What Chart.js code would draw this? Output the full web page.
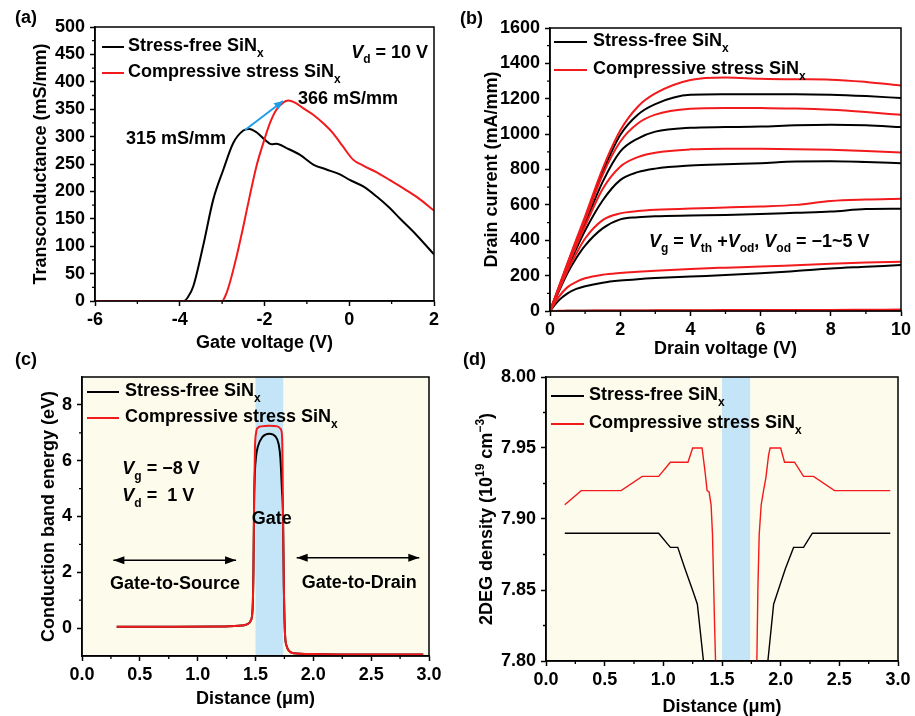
<!DOCTYPE html>
<html lang="en">
<head>
<meta charset="UTF-8">
<title>Stress-free vs compressive stress SiNx</title>
<script src="https://cdn.jsdelivr.net/npm/chart.js"></script>
<style>
  body { margin: 0; background: #fff; font-family: 'Liberation Sans', Arial, sans-serif; }
  .wrap { position: relative; width: 915px; height: 716px; overflow: hidden; }
  .wrap canvas { position: absolute; }
  .tag { position: absolute; font-weight: bold; font-size: 18px; line-height: 18px; }
</style>
</head>
<body>
<div class="wrap">
  <canvas id="chartA" width="455" height="355" style="left:0;top:0"></canvas>
  <canvas id="chartB" width="460" height="360" style="left:455px;top:0"></canvas>
  <canvas id="chartC" width="455" height="361" style="left:0;top:355px"></canvas>
  <canvas id="chartD" width="460" height="361" style="left:455px;top:355px"></canvas>
  <div class="tag" style="left:15px;top:8px">(a)</div>
  <div class="tag" style="left:460px;top:9px">(b)</div>
  <div class="tag" style="left:15px;top:350px">(c)</div>
  <div class="tag" style="left:463px;top:350px">(d)</div>
</div>
<script>
// ---- data ----
// (a) transconductance vs gate voltage, Vd = 10 V
const gateVFree = [-6, -4.5, -3.9, -3.8, -3.68, -3.45, -3.21, -2.97, -2.74, -2.5, -2.36, -2.19, -1.99, -1.83, -1.72, -1.48, -1.17, -0.85, -0.54, -0.22, 0.01, 0.33, 0.64, 0.95, 1.19, 1.58, 2.0];
const gmFree = [0, 0, 0, 8, 27, 100, 185, 240, 288, 311, 314, 308, 294, 286, 287, 279, 267, 249, 240, 231, 221, 209, 191, 170, 151, 121, 85];
const gateVComp = [-6, -4.5, -3.0, -2.92, -2.82, -2.66, -2.5, -2.35, -2.19, -2.03, -1.87, -1.72, -1.56, -1.44, -1.28, -1.09, -0.85, -0.58, -0.38, -0.15, 0.09, 0.33, 0.64, 0.95, 1.35, 1.66, 2.0];
const gmComp = [0, 0, 0, 10, 33, 81, 136, 191, 246, 288, 325, 349, 362, 366, 362, 352, 340, 322, 306, 282, 258, 247, 235, 221, 202, 186, 165];
const aXTicks = [-6, -4, -2, 0, 2];
const aYTicks = [0, 50, 100, 150, 200, 250, 300, 350, 400, 450, 500];

// (b) output curves, one row per overdrive step
const drainV = [0, 0.25, 0.5, 0.75, 1, 1.5, 2, 2.5, 3, 4, 5, 6, 7, 8, 9, 10];
const idFree = [
  [0, 0, 1, 1, 1, 1, 1, 1, 1, 1, 1, 1, 1, 1, 1, 1],
  [0, 60, 100, 125, 140, 160, 172, 180, 186, 195, 203, 213, 226, 240, 250, 260],
  [0, 110, 215, 300, 370, 467, 518, 530, 536, 540, 543, 548, 555, 562, 576, 578],
  [0, 122, 240, 352, 455, 625, 740, 785, 805, 822, 830, 836, 845, 846, 842, 836],
  [0, 128, 255, 378, 495, 730, 901, 975, 1014, 1036, 1040, 1043, 1050, 1053, 1050, 1040],
  [0, 133, 266, 396, 522, 785, 995, 1110, 1170, 1222, 1225, 1226, 1226, 1223, 1215, 1204]
];
const idComp = [
  [0, 1, 2, 2, 2, 3, 3, 3, 4, 4, 5, 5, 6, 6, 7, 8],
  [0, 80, 135, 165, 185, 205, 215, 222, 228, 238, 245, 251, 259, 267, 274, 279],
  [0, 115, 228, 325, 410, 514, 552, 565, 572, 580, 585, 591, 600, 622, 630, 634],
  [0, 126, 250, 368, 480, 690, 816, 870, 895, 914, 918, 917, 915, 911, 905, 896],
  [0, 131, 262, 390, 512, 770, 957, 1060, 1110, 1143, 1148, 1147, 1145, 1138, 1125, 1109],
  [0, 136, 272, 405, 535, 805, 1020, 1155, 1230, 1306, 1320, 1313, 1310, 1308, 1295, 1275]
];
const bXTicks = [0, 2, 4, 6, 8, 10];
const bYTicks = [0, 200, 400, 600, 800, 1000, 1200, 1400, 1600];

// (c) conduction band energy along the channel
const distCFree = [0.30, 0.80, 1.20, 1.38, 1.43, 1.46, 1.475, 1.482, 1.488, 1.495, 1.505, 1.52, 1.56, 1.62, 1.67, 1.70, 1.715, 1.728, 1.738, 1.745, 1.755, 1.77, 1.79, 1.83, 2.00, 2.50, 2.95];
const ecFree = [0.05, 0.05, 0.06, 0.09, 0.14, 0.28, 0.70, 2.0, 4.5, 5.6, 6.15, 6.5, 6.85, 6.97, 6.88, 6.6, 6.1, 5.0, 4.0, 1.5, -0.2, -0.65, -0.82, -0.90, -0.93, -0.95, -0.95];
const distCComp = [0.30, 0.80, 1.20, 1.38, 1.43, 1.46, 1.475, 1.482, 1.488, 1.495, 1.505, 1.52, 1.55, 1.62, 1.69, 1.715, 1.725, 1.732, 1.738, 1.745, 1.755, 1.77, 1.79, 1.83, 2.00, 2.50, 2.95];
const ecComp = [0.05, 0.05, 0.06, 0.09, 0.14, 0.28, 0.70, 2.0, 4.5, 6.4, 7.0, 7.18, 7.23, 7.25, 7.23, 7.15, 7.05, 6.5, 4.0, 1.5, -0.2, -0.65, -0.82, -0.90, -0.93, -0.95, -0.95];
const cXTicks = [0, 0.5, 1, 1.5, 2, 2.5, 3];
const cYTicks = [0, 2, 4, 6, 8];

// (d) 2DEG density along the channel (null = gap under the gate)
const distDFree = [0.16, 0.96, 1.06, 1.123, 1.18, 1.257, 1.29, 1.342, 1.35, 1.6, 1.885, 1.891, 1.94, 1.98, 2.04, 2.11, 2.195, 2.27, 2.934];
const nsFree = [7.89, 7.89, 7.88, 7.88, 7.866, 7.848, 7.84, 7.80, 7.79, null, 7.79, 7.80, 7.84, 7.85, 7.865, 7.88, 7.88, 7.89, 7.89];
const distDComp = [0.16, 0.30, 0.64, 0.82, 0.96, 1.06, 1.21, 1.25, 1.33, 1.356, 1.373, 1.39, 1.407, 1.419, 1.436, 1.445, 1.45, 1.6, 1.79, 1.797, 1.806, 1.817, 1.834, 1.854, 1.874, 1.897, 1.91, 2.00, 2.033, 2.118, 2.195, 2.28, 2.459, 2.934];
const nsComp = [7.91, 7.92, 7.92, 7.93, 7.93, 7.94, 7.94, 7.95, 7.95, 7.933, 7.92, 7.919, 7.91, 7.889, 7.828, 7.80, 7.79, null, 7.79, 7.80, 7.851, 7.889, 7.91, 7.92, 7.929, 7.945, 7.95, 7.95, 7.94, 7.94, 7.93, 7.93, 7.92, 7.92];
const dXTicks = [0, 0.5, 1, 1.5, 2, 2.5, 3];
const dYTicks = [7.80, 7.85, 7.90, 7.95, 8.00];

const gateRegion = [1.5, 1.74];

const nameFree = [['Stress-free SiN'], ['x', 'sub']];
const nameComp = [['Compressive stress SiN'], ['x', 'sub']];

// ---- drawing helpers ----
const FONT = "'Liberation Sans', Arial, sans-serif";
const RED = '#f21a1c';
const BLACK = '#000000';
Chart.defaults.font.family = FONT;
Chart.defaults.font.size = 18;
Chart.defaults.font.weight = 'bold';
Chart.defaults.color = '#000';

function pts(xs, ys) {
  return xs.map((x, i) => ({ x: x, y: ys[i] }));
}

function setFont(ctx, st, fs) {
  const small = st === 'sub' || st === 'sup';
  const size = small ? Math.round(fs * 0.65) : fs;
  ctx.font = (st === 'i' ? 'italic ' : '') + 'bold ' + size + 'px ' + FONT;
}

// runs: [[text, style]], style '' | 'i' | 'sub' | 'sup'; y is the baseline
function drawRich(ctx, runs, x, y, align, fs) {
  fs = fs || 18;
  let w = 0;
  runs.forEach(r => { setFont(ctx, r[1] || '', fs); w += ctx.measureText(r[0]).width; });
  let cx = align === 'center' ? x - w / 2 : align === 'right' ? x - w : x;
  ctx.textAlign = 'left';
  ctx.textBaseline = 'alphabetic';
  ctx.fillStyle = '#000';
  runs.forEach(r => {
    const st = r[1] || '';
    setFont(ctx, st, fs);
    const dy = st === 'sub' ? fs * 0.32 : st === 'sup' ? -fs * 0.42 : 0;
    ctx.fillText(r[0], cx, y + dy);
    cx += ctx.measureText(r[0]).width;
  });
}

function head(ctx, x1, y1, x2, y2, len, half) {
  const a = Math.atan2(y2 - y1, x2 - x1);
  ctx.beginPath();
  ctx.moveTo(x2, y2);
  ctx.lineTo(x2 - len * Math.cos(a) + half * Math.sin(a), y2 - len * Math.sin(a) - half * Math.cos(a));
  ctx.lineTo(x2 - len * Math.cos(a) - half * Math.sin(a), y2 - len * Math.sin(a) + half * Math.cos(a));
  ctx.closePath();
  ctx.fill();
}

function minorTicks(scale, step, majors, cb) {
  const n = Math.round((scale.max - scale.min) / step);
  for (let i = 1; i < n; i++) {
    const v = scale.min + i * step;
    if (majors.some(m => Math.abs(m - v) < step / 10)) continue;
    cb(scale.getPixelForValue(v));
  }
}

// per-panel decorations, looked up by canvas id
const decoById = {};

const decoPlugin = {
  id: 'deco',
  beforeDraw(chart) {
    const o = decoById[chart.canvas.id];
    const a = chart.chartArea, ctx = chart.ctx, xs = chart.scales.x;
    ctx.save();
    if (o.bg) {
      ctx.fillStyle = o.bg;
      ctx.fillRect(a.left, a.top, a.right - a.left, a.bottom - a.top);
    }
    if (o.band) {
      const x1 = xs.getPixelForValue(o.band[0]), x2 = xs.getPixelForValue(o.band[1]);
      ctx.fillStyle = '#c4e5f8';
      ctx.fillRect(x1, a.top, x2 - x1, a.bottom - a.top);
    }
    ctx.restore();
  },
  afterDraw(chart) {
    const o = decoById[chart.canvas.id];
    const a = chart.chartArea, ctx = chart.ctx, xs = chart.scales.x, ys = chart.scales.y;
    ctx.save();
    // frame
    ctx.strokeStyle = '#000';
    ctx.lineWidth = 1.5;
    ctx.strokeRect(a.left, a.top, a.right - a.left, a.bottom - a.top);
    // minor ticks
    ctx.lineWidth = 1.3;
    ctx.beginPath();
    minorTicks(xs, o.minorX, o.xTicks, p => { ctx.moveTo(p, a.bottom); ctx.lineTo(p, a.bottom + 3); });
    minorTicks(ys, o.minorY, o.yTicks, p => { ctx.moveTo(a.left, p); ctx.lineTo(a.left - 3, p); });
    ctx.stroke();
    // axis titles
    drawRich(ctx, o.xTitle, (a.left + a.right) / 2, a.bottom + o.xTitleDy + 6.5, 'center');
    ctx.save();
    ctx.translate(o.yTitleX, (a.top + a.bottom) / 2);
    ctx.rotate(-Math.PI / 2);
    drawRich(ctx, o.yTitle, 0, 6.5, 'center');
    ctx.restore();
    // legend
    const lg = o.legend;
    [[BLACK, nameFree], [RED, nameComp]].forEach((it, i) => {
      const ly = a.top + lg.dy + i * lg.gap;
      ctx.strokeStyle = it[0];
      ctx.lineWidth = 2;
      ctx.beginPath();
      ctx.moveTo(a.left + lg.x1, ly);
      ctx.lineTo(a.left + lg.x2, ly);
      ctx.stroke();
      drawRich(ctx, it[1], a.left + lg.tx, ly + 4, 'left');
    });
    // arrows (data coords)
    (o.arrows || []).forEach(ar => {
      const x1 = xs.getPixelForValue(ar.x1), y1 = ys.getPixelForValue(ar.y1);
      const x2 = xs.getPixelForValue(ar.x2), y2 = ys.getPixelForValue(ar.y2);
      ctx.strokeStyle = ar.color;
      ctx.fillStyle = ar.color;
      ctx.lineWidth = ar.width;
      ctx.beginPath();
      ctx.moveTo(x1, y1);
      ctx.lineTo(x2, y2);
      ctx.stroke();
      head(ctx, x1, y1, x2, y2, ar.len, ar.half);
      if (ar.both) head(ctx, x2, y2, x1, y1, ar.len, ar.half);
    });
    // text notes (data coords, y = text middle)
    (o.notes || []).forEach(n => {
      drawRich(ctx, n.runs, xs.getPixelForValue(n.x), ys.getPixelForValue(n.y) + 6.5, n.align);
    });
    ctx.restore();
  }
};

function axis(pos, min, max, ticks, fmt, size) {
  return {
    type: 'linear',
    position: pos,
    min: min,
    max: max,
    grid: { display: true, drawOnChartArea: false, drawTicks: true, tickLength: 5, tickWidth: 1.5, tickColor: '#000', color: '#000' },
    border: { display: true, color: '#000', width: 1.5 },
    ticks: { padding: pos === 'left' ? 5 : 3, color: '#000', autoSkip: false, maxRotation: 0, callback: v => fmt(v) },
    afterBuildTicks: s => { s.ticks = ticks.map(v => ({ value: v })); },
    afterFit: s => { if (pos === 'left') s.width = size; else s.height = size; }
  };
}

function line(data, color, order, width, smooth) {
  return {
    data: data,
    borderColor: color,
    backgroundColor: color,
    borderWidth: width,
    pointRadius: 0,
    fill: false,
    order: order,
    tension: 0,
    cubicInterpolationMode: smooth ? 'monotone' : 'default',
    spanGaps: false
  };
}

function makeChart(id, datasets, xAxis, yAxis, padTop, padRight) {
  return new Chart(document.getElementById(id), {
    type: 'line',
    data: { datasets: datasets },
    options: {
      responsive: false,
      animation: false,
      layout: { padding: { top: padTop, right: padRight, left: 0, bottom: 0 } },
      scales: { x: xAxis, y: yAxis },
      plugins: { legend: { display: false }, tooltip: { enabled: false } }
    },
    plugins: [decoPlugin]
  });
}

const intFmt = v => String(v);

// ---- (a) ----
decoById.chartA = {
  xTicks: aXTicks, yTicks: aYTicks, minorX: 1, minorY: 25,
  xTitle: [['Gate voltage (V)']], xTitleDy: 40,
  yTitle: [['Transconductance (mS/mm)']], yTitleX: 39,
  legend: { x1: 7, x2: 29, tx: 33, dy: 20, gap: 26 },
  arrows: [{ x1: -2.46, y1: 312, x2: -1.56, y2: 365, color: '#1f9de8', width: 2, len: 9, half: 4 }],
  notes: [
    { runs: [['315 mS/mm']], x: -4.09, y: 299, align: 'center' },
    { runs: [['366 mS/mm']], x: -0.03, y: 372, align: 'center' },
    { runs: [['V', 'i'], ['d', 'sub'], [' = 10 V']], x: 1.86, y: 456, align: 'right' }
  ]
};
makeChart('chartA', [
  line(pts(gateVFree, gmFree), BLACK, 1, 2, true),
  line(pts(gateVComp, gmComp), RED, 0, 2, true)
], axis('bottom', -6, 2, aXTicks, intFmt, 54), axis('left', 0, 500, aYTicks, intFmt, 95), 27, 21);

// ---- (b) ----
decoById.chartB = {
  xTicks: bXTicks, yTicks: bYTicks, minorX: 1, minorY: 100,
  xTitle: [['Drain voltage (V)']], xTitleDy: 36,
  yTitle: [['Drain current (mA/mm)']], yTitleX: 35,
  legend: { x1: 4, x2: 37, tx: 43, dy: 14, gap: 28 },
  notes: [
    { runs: [['V', 'i'], ['g', 'sub'], [' = '], ['V', 'i'], ['th', 'sub'], [' +'], ['V', 'i'], ['od', 'sub'], [', '], ['V', 'i'], ['od', 'sub'], [' = \u22121~5 V']], x: 2.82, y: 401, align: 'left' }
  ]
};
const bSets = [];
idComp.forEach(row => bSets.push(line(pts(drainV, row), RED, 0, 2, true)));
idFree.forEach(row => bSets.push(line(pts(drainV, row), BLACK, 1, 2, true)));
makeChart('chartB', bSets, axis('bottom', 0, 10, bXTicks, intFmt, 49), axis('left', 0, 1600, bYTicks, intFmt, 95), 28, 14);

// ---- (c) ----
decoById.chartC = {
  bg: '#fdfcec', band: gateRegion,
  xTicks: cXTicks, yTicks: cYTicks, minorX: 0.25, minorY: 1,
  xTitle: [['Distance (\u03bcm)']], xTitleDy: 41,
  yTitle: [['Conduction band energy (eV)']], yTitleX: 47,
  legend: { x1: 5, x2: 37, tx: 43, dy: 15, gap: 26 },
  arrows: [
    { x1: 0.271, y1: 2.43, x2: 1.332, y2: 2.43, color: '#000', width: 1.5, len: 11, half: 4, both: true },
    { x1: 1.856, y1: 2.52, x2: 2.916, y2: 2.52, color: '#000', width: 1.5, len: 11, half: 4, both: true }
  ],
  notes: [
    { runs: [['V', 'i'], ['g', 'sub'], [' = \u22128 V']], x: 0.349, y: 5.76, align: 'left' },
    { runs: [['V', 'i'], ['d', 'sub'], [' =  1 V']], x: 0.349, y: 4.78, align: 'left' },
    { runs: [['Gate']], x: 1.64, y: 3.95, align: 'center' },
    { runs: [['Gate-to-Source']], x: 0.804, y: 1.63, align: 'center' },
    { runs: [['Gate-to-Drain']], x: 2.397, y: 1.67, align: 'center' }
  ]
};
makeChart('chartC', [
  line(pts(distCFree, ecFree), BLACK, 1, 2, true),
  line(pts(distCComp, ecComp), RED, 0, 2, true)
], axis('bottom', 0, 3, cXTicks, v => v.toFixed(1), 60), axis('left', -1, 9, cYTicks, intFmt, 82), 22, 26);

// ---- (d) ----
decoById.chartD = {
  bg: '#fdfcec', band: gateRegion,
  xTicks: dXTicks, yTicks: dYTicks, minorX: 0.25, minorY: 0.025,
  xTitle: [['Distance (\u03bcm)']], xTitleDy: 44,
  yTitle: [['2DEG density (10'], ['19', 'sup'], [' cm'], ['\u22123', 'sup'], [')']], yTitleX: 30,
  legend: { x1: 5, x2: 38, tx: 43, dy: 19, gap: 28 }
};
makeChart('chartD', [
  line(pts(distDFree, nsFree), BLACK, 1, 1.4, false),
  line(pts(distDComp, nsComp), RED, 0, 1.4, false)
], axis('bottom', 0, 3, dXTicks, v => v.toFixed(1), 55), axis('left', 7.8, 8.0, dYTicks, v => v.toFixed(2), 91), 22, 17);
</script>
</body>
</html>
